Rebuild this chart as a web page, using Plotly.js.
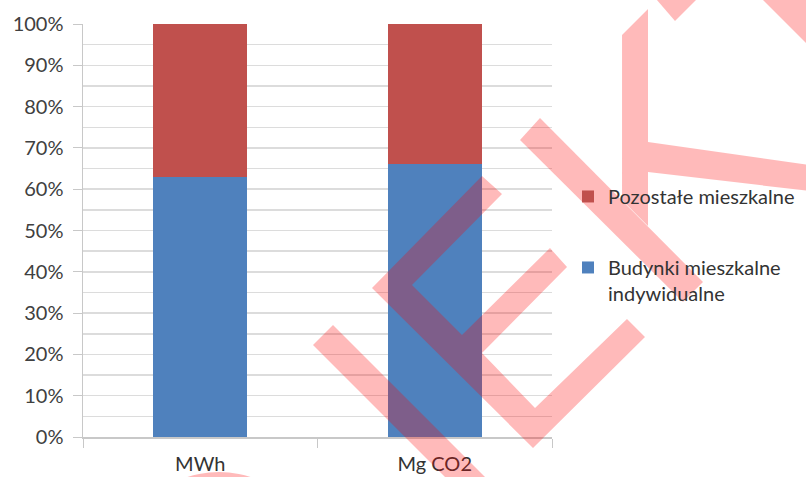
<!DOCTYPE html>
<html>
<head>
<meta charset="utf-8">
<script src="https://cdn.plot.ly/plotly-3.0.1.min.js"></script>
<style>
  html, body { margin: 0; padding: 0; background: #fff; }
  #chart { width: 806px; height: 477px; }
</style>
</head>
<body>
<div id="chart"></div>
<script>
// Share of energy use and CO2 emissions by residential building type
const categories = ['MWh', 'Mg CO2'];
const budynkiIndywidualne = [0.63, 0.66];
const pozostaleMieszkalne = [0.37, 0.34];
const seriesNames = ['Budynki mieszkalne<br>indywidualne', 'Pozostałe mieszkalne'];

// Plot area in pixels (used to place the overlay logo in paper units)
const plotLeft = 83, plotRight = 552, plotTop = 24, plotBottom = 437;
const W = 806, H = 477;

function toPaper(pt) {
  return [(pt[0] - plotLeft) / (plotRight - plotLeft),
          (plotBottom - pt[1]) / (plotBottom - plotTop)];
}
function polyPath(points) {
  return points.map((p, i) => {
    const q = toPaper(p);
    return (i === 0 ? 'M' : 'L') + q[0].toFixed(4) + ',' + q[1].toFixed(4);
  }).join(' ') + ' Z';
}

// Translucent "LEX" stamp drawn over the chart
const stampColor = 'rgba(255,0,0,0.27)';
const stampPolys = [
  [[313,345],[333,325],[520,512],[500,532]],
  [[482,176],[502,194],[412,285],[462,335],[550,248],[567,267],[482,353],
   [535,408],[627,319],[645,337],[533,448],[372,288]],
  [[520,140],[540,118],[703,282],[683,302]],
  [[622,35],[648,9],[648,142],[810,165],[810,191],[648,172],[648,226],[622,200]],
  [[650,-8],[675,21],[704,-8]],
  [[760,-3],[812,-3],[812,49]]
];
const shapes = stampPolys.map(p => ({
  type: 'path', xref: 'paper', yref: 'paper', layer: 'above',
  path: polyPath(p), fillcolor: stampColor, line: {width: 0}
}));
// round blob peeking in below the first category label
(function () {
  const a = toPaper([117, 472]), b = toPaper([321, 676]);
  shapes.push({type: 'circle', xref: 'paper', yref: 'paper', layer: 'above',
    x0: a[0], x1: b[0], y0: b[1], y1: a[1],
    fillcolor: stampColor, line: {width: 0}});
})();

const font = 'Lato, "Open Sans", sans-serif';

const traces = [
  {
    type: 'bar', x: categories, y: budynkiIndywidualne, name: seriesNames[0],
    marker: {color: '#4F81BD'}, legendgroup: 'b', legendrank: 2, hoverinfo: 'skip'
  },
  {
    type: 'bar', x: categories, y: pozostaleMieszkalne, name: seriesNames[1],
    marker: {color: '#C0504D'}, legendgroup: 'p', legendrank: 1, hoverinfo: 'skip'
  }
];

const layout = {
  width: W, height: H,
  margin: {l: plotLeft, r: W - plotRight, t: plotTop, b: H - plotBottom, pad: 0},
  paper_bgcolor: '#ffffff', plot_bgcolor: '#ffffff',
  barmode: 'stack', bargap: 0.6,
  font: {family: font, size: 20, color: '#404040'},
  showlegend: true,
  legend: {
    xref: 'container', yref: 'container', x: 0.7047, y: 0.629,
    xanchor: 'left', yanchor: 'top',
    traceorder: 'grouped', tracegroupgap: 42,
    valign: 'top', itemwidth: 30,
    font: {family: font, size: 20, color: '#333333'},
    bgcolor: 'rgba(0,0,0,0)'
  },
  xaxis: {
    type: 'category', showgrid: false, zeroline: false,
    showline: true, linecolor: '#c8c8c8', linewidth: 1.5,
    ticks: 'outside', tickson: 'boundaries', ticklen: 9, tickcolor: '#c8c8c8',
    ticklabelstandoff: 8,
    tickfont: {family: font, size: 20, color: '#333333'}
  },
  yaxis: {
    range: [0, 1], tickvals: [0,0.1,0.2,0.3,0.4,0.5,0.6,0.7,0.8,0.9,1],
    tickformat: '.0%',
    showgrid: true, gridcolor: '#dcdcdc', gridwidth: 1.5,
    minor: {dtick: 0.05, showgrid: true, gridcolor: '#dcdcdc', gridwidth: 1.5, ticks: ''},
    zeroline: false, showline: true, linecolor: '#c8c8c8', linewidth: 1.5,
    ticks: 'outside', ticklen: 9, tickcolor: '#c8c8c8',
    ticklabelstandoff: 5,
    tickfont: {family: font, size: 20, color: '#404040'}
  },
  shapes: shapes
};

Plotly.newPlot('chart', traces, layout, {staticPlot: true, displayModeBar: false});
</script>
</body>
</html>
